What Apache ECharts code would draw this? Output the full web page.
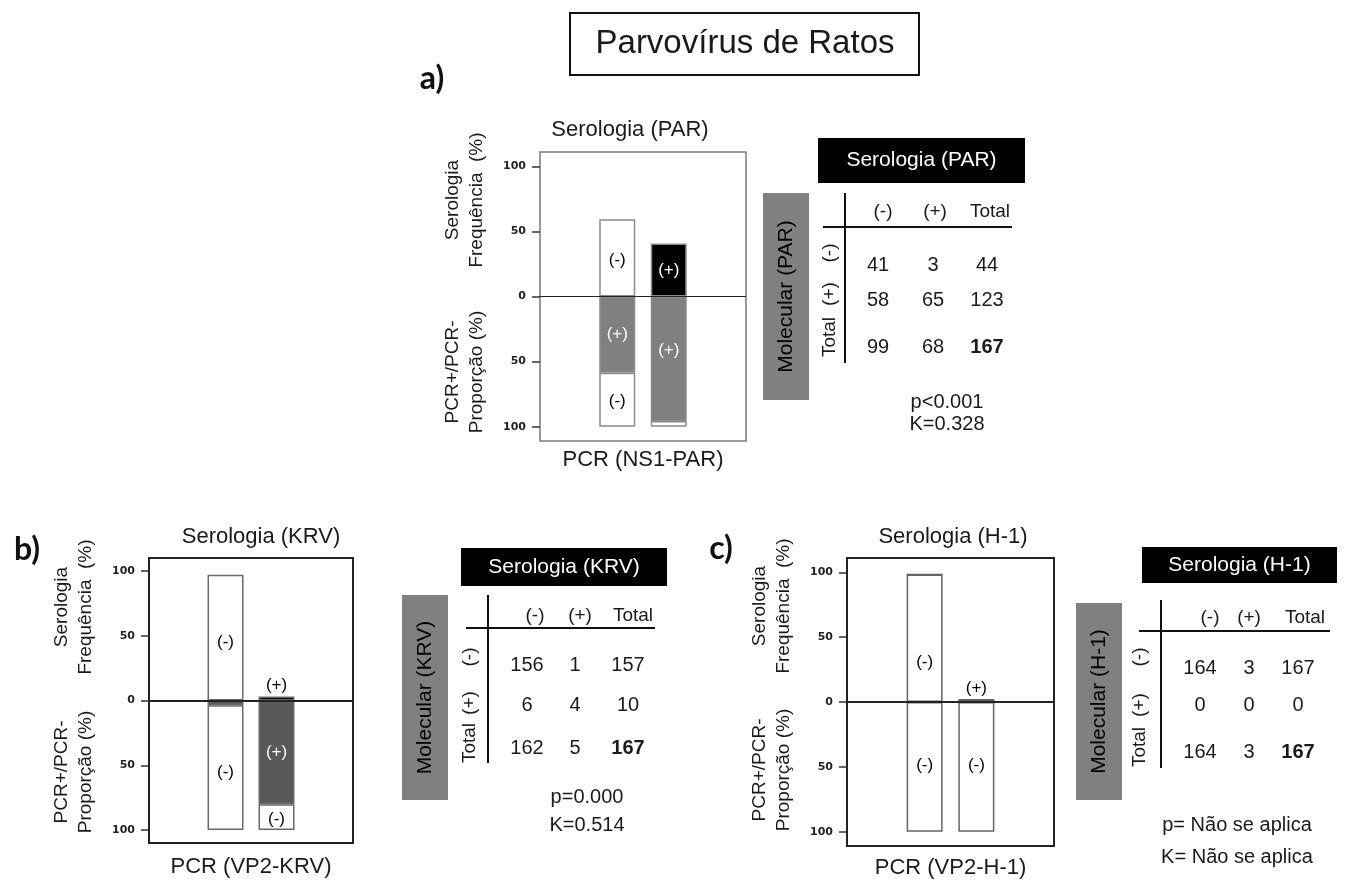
<!DOCTYPE html>
<html>
<head>
<meta charset="utf-8">
<script src="https://cdn.jsdelivr.net/npm/echarts@6/dist/echarts.min.js"></script>
<style>
  html, body { margin: 0; padding: 0; background: #fff; }
  #main { width: 1347px; height: 880px; }
</style>
</head>
<body>
<div id="main"></div>
<script>
// ---- data ----
var cats = ['', '(-)', '(+)', ''];
var yTicks = [-100, -50, 0, 50, 100];
var colHeads = ['(-)', '(+)', 'Total'];
var rowHeads = ['(-)', '(+)', 'Total'];
// rows: molecular (-), (+), Total ; cols: serology (-), (+), Total
var parCounts = [[41, 3, 44], [58, 65, 123], [99, 68, 167]];
var krvCounts = [[156, 1, 157], [6, 4, 10], [162, 5, 167]];
var h1Counts = [[164, 3, 167], [0, 0, 0], [164, 3, 167]];
var parStats = ['p<0.001', 'K=0.328'];
var krvStats = ['p=0.000', 'K=0.514'];
var h1Stats = ['p= Não se aplica', 'K= Não se aplica'];

var FONT = '"Liberation Sans", Arial, sans-serif';

var panels = [
  { letter: 'a)', title: 'Serologia (PAR)', xName: 'PCR (NS1-PAR)', table: 'Serologia (PAR)', mol: 'Molecular (PAR)',
    counts: parCounts, stats: parStats,
    grid: { left: 540, top: 152, width: 206, height: 289 }, yMax: 111, nameGap: 8,
    posColor: '#808080', edge: '#8a8a8a', frame: '#7a7a7a', frameW: 1.5, zeroW: 1,
    upOff: [[0, 2], [0, 0]], posOff: [[0, 0], [0, -8]], negOff: [[0, 2], [0, 0]],
    letterXY: [432, 79], titleXY: [630, 130], upperY: 200, lowerY: 372 },
  { letter: 'b)', title: 'Serologia (KRV)', xName: 'PCR (VP2-KRV)', table: 'Serologia (KRV)', mol: 'Molecular (KRV)',
    counts: krvCounts, stats: krvStats,
    grid: { left: 149, top: 558, width: 204, height: 285 }, yMax: 110, nameGap: 13,
    posColor: '#595959', edge: '#6a6a6a', frame: '#222', frameW: 2, zeroW: 2,
    upOff: [[0, 5], [0, 0]], posOff: [[0, 0], [0, 0]], negOff: [[0, 5], [0, 2]],
    letterXY: [27, 550], titleXY: [261, 537], upperY: 607, lowerY: 772 },
  { letter: 'c)', title: 'Serologia (H-1)', xName: 'PCR (VP2-H-1)', table: 'Serologia (H-1)', mol: 'Molecular (H-1)',
    counts: h1Counts, stats: h1Stats,
    grid: { left: 847, top: 558, width: 207, height: 288 }, yMax: 111, nameGap: 11,
    posColor: '#595959', edge: '#666', frame: '#222', frameW: 2, zeroW: 2,
    upOff: [[0, 24], [0, 0]], posOff: [[0, 0], [0, 0]], negOff: [[0, -2], [0, -2]],
    letterXY: [721, 549], titleXY: [953, 537], upperY: 606, lowerY: 770 }
];

var tableLayouts = [
  { hx: 818, hy: 138, hw: 207, hh: 45, gx: 763, gy: 193, gw: 46, gh: 207,
    vx: 845, vy1: 193, vy2: 363, hly: 227, hlx1: 823, hlx2: 1012,
    chy: 212, cx: [883, 935, 990], vxs: [878, 933, 987], rows: [265, 300, 347],
    rx: 830, ry: [253, 294, 337], px: 947, py: [402, 424] },
  { hx: 461, hy: 548, hw: 206, hh: 38, gx: 402, gy: 595, gw: 46, gh: 205,
    vx: 488, vy1: 595, vy2: 763, hly: 628, hlx1: 466, hlx2: 655,
    chy: 616, cx: [535, 580, 633], vxs: [527, 575, 628], rows: [665, 705, 748],
    rx: 470, ry: [657, 703, 743], px: 587, py: [797, 825] },
  { hx: 1142, hy: 547, hw: 195, hh: 36, gx: 1076, gy: 603, gw: 46, gh: 197,
    vx: 1161, vy1: 600, vy2: 768, hly: 631, hlx1: 1139, hlx2: 1330,
    chy: 618, cx: [1210, 1249, 1305], vxs: [1200, 1249, 1298], rows: [668, 705, 752],
    rx: 1140, ry: [657, 705, 747], px: 1237, py: [825, 857] }
];

var chart = echarts.init(document.getElementById('main'));

var grids = [], xAxes = [], yAxes = [], series = [], graphics = [];

function lbl(v, color, upper, off) {
  if (Math.abs(v) >= 10) return { show: true, position: 'inside', color: color, offset: off };
  if (upper && v > 0) return { show: true, position: 'top', color: '#000', distance: 3 };
  return { show: false };
}

function txt(x, y, s, size, opts) {
  opts = opts || {};
  return {
    type: 'text', x: x, y: y, rotation: opts.rot || 0, z: 10,
    style: {
      text: s, fill: opts.fill || '#1a1a1a', font: (opts.weight || 'normal') + ' ' + size + 'px ' + (opts.family || FONT),
      textAlign: 'center', textVerticalAlign: 'middle', lineHeight: opts.lh
    }
  };
}

panels.forEach(function (p, i) {
  var c = p.counts;
  var total = c[2][2];
  var freq = [c[2][0] / total * 100, c[2][1] / total * 100];
  var pcrPos = [c[1][0] / c[2][0] * 100, c[1][1] / c[2][1] * 100];
  var pcrNeg = [c[0][0] / c[2][0] * 100, c[0][1] / c[2][1] * 100];

  grids.push({ left: p.grid.left, top: p.grid.top, width: p.grid.width, height: p.grid.height,
    show: true, borderColor: p.frame, borderWidth: p.frameW, outerBoundsMode: 'none' });

  xAxes.push({ gridIndex: i, type: 'category', data: cats,
    axisLine: { show: false, onZero: false }, axisTick: { show: false }, axisLabel: { show: false },
    name: p.xName, nameLocation: 'middle', nameGap: p.nameGap,
    nameTextStyle: { fontSize: 22, fontFamily: FONT, color: '#1a1a1a' } });

  yAxes.push({ gridIndex: i, type: 'value', min: -p.yMax, max: p.yMax,
    splitLine: { show: false }, axisLine: { show: false },
    axisTick: { show: true, length: 8, customValues: yTicks, lineStyle: { color: '#333', width: 1.5 } },
    axisLabel: { customValues: yTicks, formatter: function (v) { return Math.abs(v); },
      margin: 14, fontSize: 11, fontWeight: 'bold', fontFamily: '"DejaVu Sans", sans-serif', color: '#222' } });

  var base = { type: 'bar', xAxisIndex: i, yAxisIndex: i, stack: 'st' + i, barWidth: 36, animation: false };

  series.push(Object.assign({}, base, {
    name: 'Serologia',
    itemStyle: { borderColor: p.edge, borderWidth: 1.5 },
    label: { fontSize: 17, fontFamily: FONT, formatter: function (q) { return q.name; } },
    data: [null,
      { value: freq[0], itemStyle: { color: '#fff' }, label: lbl(freq[0], '#000', true, p.upOff[0]) },
      { value: freq[1], itemStyle: { color: '#000' }, label: lbl(freq[1], '#fff', true, p.upOff[1]) },
      null],
    markLine: { silent: true, symbol: 'none', label: { show: false },
      lineStyle: { color: '#222', width: p.zeroW, type: 'solid' }, data: [{ yAxis: 0 }] }
  }));
  series.push(Object.assign({}, base, {
    name: '(+)',
    itemStyle: { color: p.posColor, borderColor: p.edge, borderWidth: 1.5 },
    label: { fontSize: 17, fontFamily: FONT, formatter: '{a}' },
    data: [null,
      { value: -pcrPos[0], label: lbl(-pcrPos[0], '#fff', false, p.posOff[0]) },
      { value: -pcrPos[1], label: lbl(-pcrPos[1], '#fff', false, p.posOff[1]) },
      null]
  }));
  series.push(Object.assign({}, base, {
    name: '(-)',
    itemStyle: { color: '#fff', borderColor: p.edge, borderWidth: 1.5 },
    label: { fontSize: 17, fontFamily: FONT, formatter: '{a}' },
    data: [null,
      { value: -pcrNeg[0], label: lbl(-pcrNeg[0], '#000', false, p.negOff[0]) },
      { value: -pcrNeg[1], label: lbl(-pcrNeg[1], '#000', false, p.negOff[1]) },
      null]
  }));

  // panel texts
  graphics.push(txt(p.letterXY[0], p.letterXY[1], p.letter, 32, { weight: 'bold', family: 'Lato, sans-serif', fill: '#111' }));
  graphics.push(txt(p.titleXY[0], p.titleXY[1], p.title, 22));
  var dx = p.grid.left - 75;
  graphics.push(txt(dx, p.upperY, 'Serologia\nFrequência  (%)', 19, { rot: Math.PI / 2, lh: 24 }));
  graphics.push(txt(dx, p.lowerY, 'PCR+/PCR-\nProporção (%)', 19, { rot: Math.PI / 2, lh: 24 }));

  // contingency table
  var L = tableLayouts[i];
  graphics.push({ type: 'rect', shape: { x: L.hx, y: L.hy, width: L.hw, height: L.hh }, style: { fill: '#000' } });
  graphics.push(txt(L.hx + L.hw / 2, L.hy + L.hh / 2, p.table, 21, { fill: '#fff' }));
  graphics.push({ type: 'rect', shape: { x: L.gx, y: L.gy, width: L.gw, height: L.gh }, style: { fill: '#808080' } });
  graphics.push(txt(L.gx + L.gw / 2, L.gy + L.gh / 2, p.mol, 21, { rot: Math.PI / 2, fill: '#000' }));
  graphics.push({ type: 'line', shape: { x1: L.vx, y1: L.vy1, x2: L.vx, y2: L.vy2 }, style: { stroke: '#111', lineWidth: 2 } });
  graphics.push({ type: 'line', shape: { x1: L.hlx1, y1: L.hly, x2: L.hlx2, y2: L.hly }, style: { stroke: '#111', lineWidth: 2 } });
  colHeads.forEach(function (h, j) { graphics.push(txt(L.cx[j], L.chy, h, 19)); });
  rowHeads.forEach(function (h, r) { graphics.push(txt(L.rx, L.ry[r], h, 19, { rot: Math.PI / 2 })); });
  c.forEach(function (row, r) {
    row.forEach(function (v, j) {
      var bold = (r === 2 && j === 2);
      graphics.push(txt(L.vxs[j], L.rows[r], String(v), 20, { weight: bold ? 'bold' : 'normal' }));
    });
  });
  graphics.push(txt(L.px, L.py[0], p.stats[0], 20));
  graphics.push(txt(L.px, L.py[1], p.stats[1], 20));
});

// main title box
graphics.push({ type: 'rect', shape: { x: 570, y: 13, width: 349, height: 62 }, style: { fill: '#fff', stroke: '#111', lineWidth: 2 } });
graphics.push(txt(745, 44, 'Parvovírus de Ratos', 33));

var option = {
  backgroundColor: '#fff',
  animation: false,
  grid: grids,
  xAxis: xAxes,
  yAxis: yAxes,
  series: series,
  graphic: { elements: graphics }
};

option && chart.setOption(option);
</script>
</body>
</html>
